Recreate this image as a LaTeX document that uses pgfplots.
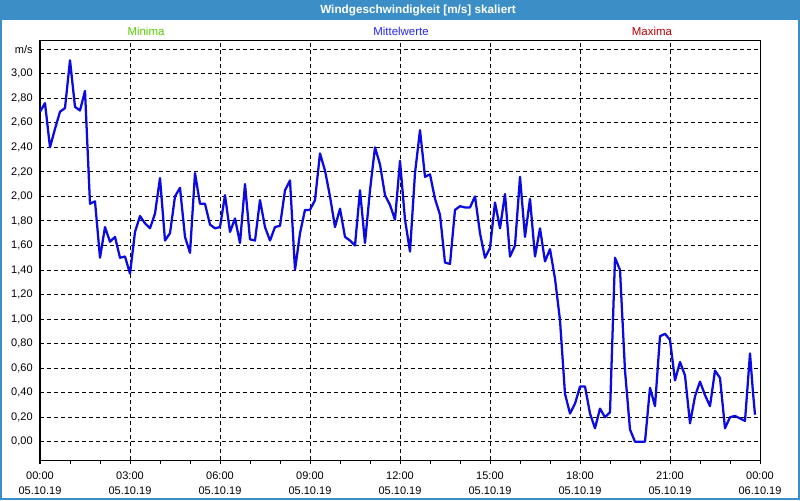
\documentclass[border=0pt]{standalone}
\usepackage{fontspec}
\setmainfont{Liberation Sans}
\usepackage{pgfplots}
\pgfplotsset{compat=1.18}

\definecolor{framebl}{RGB}{60,143,198}
\definecolor{mingreen}{RGB}{90,200,0}
\definecolor{midblue}{RGB}{40,40,240}
\definecolor{maxred}{RGB}{180,0,0}
\definecolor{lineblue}{RGB}{10,10,225}

% 10-minute means, index 0..143 (0 = 05.10.19 00:00)
\pgfplotstableread{
i v
0 2.69
1 2.76
2 2.40
3 2.55
4 2.69
5 2.72
6 3.11
7 2.73
8 2.70
9 2.86
10 1.94
11 1.96
12 1.50
13 1.75
14 1.63
15 1.67
16 1.50
17 1.51
18 1.37
19 1.71
20 1.84
21 1.78
22 1.74
23 1.86
24 2.15
25 1.64
26 1.70
27 2.00
28 2.07
29 1.67
30 1.54
31 2.19
32 1.94
33 1.94
34 1.77
35 1.74
36 1.75
37 2.01
38 1.71
39 1.82
40 1.62
41 2.10
42 1.65
43 1.64
44 1.97
45 1.75
46 1.64
47 1.75
48 1.76
49 2.05
50 2.13
51 1.40
52 1.70
53 1.89
54 1.89
55 1.97
56 2.35
57 2.21
58 2.00
59 1.75
60 1.90
61 1.67
62 1.64
63 1.60
64 2.05
65 1.62
66 2.05
67 2.40
68 2.26
69 2.01
70 1.93
71 1.81
72 2.29
73 1.81
74 1.55
75 2.19
76 2.54
77 2.16
78 2.18
79 1.98
80 1.85
81 1.46
82 1.45
83 1.89
84 1.92
85 1.91
86 1.91
87 2.00
88 1.70
89 1.50
90 1.58
91 1.95
92 1.74
93 2.02
94 1.51
95 1.60
96 2.16
97 1.67
98 1.98
99 1.51
100 1.74
101 1.47
102 1.57
103 1.33
104 0.99
105 0.39
106 0.23
107 0.31
108 0.45
109 0.45
110 0.23
111 0.11
112 0.27
113 0.20
114 0.24
115 1.50
116 1.40
117 0.58
118 0.10
119 0.00
120 0.00
121 0.00
122 0.44
123 0.29
124 0.86
125 0.88
126 0.83
127 0.50
128 0.65
129 0.54
130 0.15
131 0.37
132 0.49
133 0.38
134 0.29
135 0.58
136 0.52
137 0.11
138 0.20
139 0.21
140 0.19
141 0.17
142 0.72
142.6 0.40
143 0.22
}\wind

\begin{document}
\begin{tikzpicture}[x=0.75pt,y=0.75pt,font=\fontsize{8.25}{11.25}\selectfont]
\fill[white] (0,0) rectangle (800,-500);
\path[use as bounding box] (0,0) rectangle (800,-500);
\fill[framebl] (0,0) rectangle (800,-20);
\draw[framebl,line width=1.5pt] (1,-1) rectangle (799,-499);
\node[white,font=\fontsize{8.8}{10}\selectfont\bfseries] at (418,-10) {Windgeschwindigkeit [m/s] skaliert};
\node[mingreen,font=\fontsize{8.6}{10}\selectfont] at (146,-31) {Minima};
\node[midblue,font=\fontsize{8.6}{10}\selectfont] at (401,-31) {Mittelwerte};
\node[maxred,font=\fontsize{8.6}{10}\selectfont] at (652,-31) {Maxima};

\begin{axis}[
    at={(30pt,-30pt)}, anchor=north west,
    width=540pt, height=315pt, scale only axis,
    xmin=0, xmax=144, ymin=-0.149, ymax=3.275,
    axis line style={black, line width=0.75pt},
    xtick={0,18,...,144},
    xticklabels={{00:00\\05.10.19},{03:00\\05.10.19},{06:00\\05.10.19},{09:00\\05.10.19},{12:00\\05.10.19},{15:00\\05.10.19},{18:00\\05.10.19},{21:00\\05.10.19},{00:00\\06.10.19}},
    xticklabel style={align=center, yshift=-2pt},
    minor xtick={0,6,...,144},
    xtick pos=bottom, tick align=outside,
    major tick length=3pt, minor tick length=3pt,
    tick style={black, line width=0.75pt},
    ytick={0,0.2,...,3.21},
    yticklabels={{0,00},{0,20},{0,40},{0,60},{0,80},{1,00},{1,20},{1,40},{1,60},{1,80},{2,00},{2,20},{2,40},{2,60},{2,80},{3,00},{m/s}},
    ytick style={draw=none},
    yticklabel style={xshift=1pt},
    ytick pos=left,
    grid=major,
    major grid style={black, line width=0.75pt, dash pattern=on 3pt off 2.25pt},
]
\addplot[lineblue, line width=1.7pt, line join=round] table[x=i, y=v] {\wind};
\end{axis}
\end{tikzpicture}
\end{document}
